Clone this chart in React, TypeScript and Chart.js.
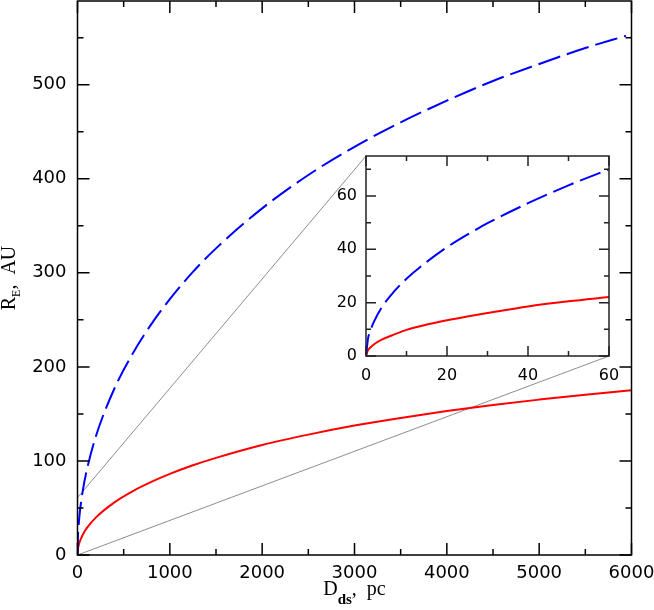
import React, { useEffect, useRef } from "react";
import { Chart, registerables } from "chart.js";

Chart.register(...registerables);

// ---------------- Main panel data ----------------
const blueD = [0, 5, 15, 30, 60, 100, 200, 400, 600, 800, 1000, 1250, 1500, 2000, 2500, 3000, 3500, 4000, 4500, 5000, 5500, 5940];
const blueRE = [0, 20, 35, 49.5, 70, 90, 126.5, 177, 214.5, 245.5, 272, 301, 326, 368.5, 404, 434, 460, 483, 504, 522, 539, 552];
const redD = [0, 5, 15, 30, 60, 100, 200, 400, 600, 800, 1000, 1250, 1500, 2000, 2500, 3000, 3500, 4000, 4500, 5000, 5500, 6000];
const redRE = [0, 6.4, 11.1, 15.7, 22.1, 28.5, 40, 56, 68, 77.7, 86.2, 95.4, 103.3, 117, 128, 137.6, 145.7, 153, 159.5, 165.2, 170.5, 175.2];

const xTickLabels = ["0", "1000", "2000", "3000", "4000", "5000", "6000"];
const yTickLabels = ["0", "100", "200", "300", "400", "500"];

// ---------------- Inset data ----------------
const insetD = [0, 0.5, 1, 2, 4, 7, 10, 15, 20, 25, 30, 40, 50, 60];
const insetBlue = [0, 6.5, 9.2, 13, 18.5, 24.3, 29, 35.3, 40.8, 45.5, 49.8, 57.3, 64, 70];
const insetRed = [0, 2.2, 3.1, 4.4, 6.2, 8.1, 9.8, 11.8, 13.4, 14.8, 16.1, 18.6, 20.5, 22.1];

const insetXTickLabels = ["0", "20", "40", "60"];
const insetYTickLabels = ["0", "20", "40", "60"];

// zoom-box corners (main data coords) joined to inset corners
const zoomTopLeft = [0, 61];
const zoomBottomRight = [0, 0];

// ---------------- layout ----------------
const W = 654;
const H = 610;
const INSET_AREA = { left: 366, top: 156, right: 609, bottom: 356 };
const INSET_PAD = { left: 40, top: 6, right: 12, bottom: 34 };

const pts = (xs: number[], ys: number[]) => xs.map((x, i) => ({ x, y: ys[i] }));

type FrameOpts = {
  color: string;
  lw: number;
  xStep: number;
  yStep: number;
  xMinor: number;
  yMinor: number;
  major: number;
  minor: number;
};

function framePlugin(o: FrameOpts) {
  return {
    id: "frameTicks",
    afterDatasetsDraw(chart: any) {
      const { ctx, chartArea: a, scales } = chart;
      const sx = scales.x;
      const sy = scales.y;
      ctx.save();
      ctx.strokeStyle = o.color;
      ctx.lineWidth = o.lw;
      ctx.lineCap = "butt";
      ctx.strokeRect(a.left, a.top, a.right - a.left, a.bottom - a.top);
      ctx.beginPath();
      const nx = Math.round((sx.max - sx.min) / o.xMinor);
      for (let i = 0; i <= nx; i++) {
        const v = sx.min + i * o.xMinor;
        const isMajor = Math.abs(v / o.xStep - Math.round(v / o.xStep)) < 1e-6;
        const len = isMajor ? o.major : o.minor;
        const p = sx.getPixelForValue(v);
        ctx.moveTo(p, a.bottom);
        ctx.lineTo(p, a.bottom - len);
        ctx.moveTo(p, a.top);
        ctx.lineTo(p, a.top + len);
      }
      const ny = Math.floor((sy.max - sy.min) / o.yMinor + 1e-6);
      for (let i = 0; i <= ny; i++) {
        const v = sy.min + i * o.yMinor;
        const isMajor = Math.abs(v / o.yStep - Math.round(v / o.yStep)) < 1e-6;
        const len = isMajor ? o.major : o.minor;
        const p = sy.getPixelForValue(v);
        ctx.moveTo(a.left, p);
        ctx.lineTo(a.left + len, p);
        ctx.moveTo(a.right, p);
        ctx.lineTo(a.right - len, p);
      }
      ctx.stroke();
      ctx.restore();
    },
  };
}

type Part = { t: string; font: string; dy: number };
function drawParts(ctx: CanvasRenderingContext2D, parts: Part[], x: number, y: number) {
  const widths = parts.map((p) => {
    ctx.font = p.font;
    return ctx.measureText(p.t).width;
  });
  const total = widths.reduce((s, w) => s + w, 0);
  let cx = x - total / 2;
  ctx.textAlign = "left";
  ctx.textBaseline = "alphabetic";
  parts.forEach((p, i) => {
    ctx.font = p.font;
    ctx.fillText(p.t, cx, y + p.dy);
    cx += widths[i];
  });
}

const SERIF = "'Liberation Serif', 'DejaVu Serif', serif";
const SANS = "'DejaVu Sans', sans-serif";

const titlesPlugin = {
  id: "titles",
  afterDraw(chart: any) {
    const { ctx, chartArea: a } = chart;
    ctx.save();
    ctx.fillStyle = "#000";
    drawParts(
      ctx,
      [
        { t: "D", font: `20px ${SERIF}`, dy: 0 },
        { t: "ds", font: `bold 15px ${SERIF}`, dy: 9 },
        { t: ",  pc", font: `20px ${SERIF}`, dy: 0 },
      ],
      (a.left + a.right) / 2,
      595
    );
    ctx.translate(15, (a.top + a.bottom) / 2);
    ctx.rotate(-Math.PI / 2);
    drawParts(
      ctx,
      [
        { t: "R", font: `20px ${SERIF}`, dy: 0 },
        { t: "E", font: `12px ${SERIF}`, dy: 5 },
        { t: ",  AU", font: `20px ${SERIF}`, dy: 0 },
      ],
      0,
      0
    );
    ctx.restore();
  },
};

const connectorPlugin = {
  id: "connectors",
  beforeDatasetsDraw(chart: any) {
    const { ctx, scales } = chart;
    const sx = scales.x;
    const sy = scales.y;
    ctx.save();
    ctx.strokeStyle = "#808080";
    ctx.lineWidth = 0.9;
    ctx.beginPath();
    ctx.moveTo(sx.getPixelForValue(zoomTopLeft[0]), sy.getPixelForValue(zoomTopLeft[1]));
    ctx.lineTo(INSET_AREA.left, INSET_AREA.top);
    ctx.moveTo(sx.getPixelForValue(zoomBottomRight[0]), sy.getPixelForValue(zoomBottomRight[1]));
    ctx.lineTo(INSET_AREA.right, INSET_AREA.bottom);
    ctx.stroke();
    ctx.restore();
  },
};

const insetBgPlugin = {
  id: "insetBg",
  beforeDraw(chart: any) {
    const { ctx, chartArea: a } = chart;
    ctx.save();
    ctx.fillStyle = "#fff";
    ctx.fillRect(a.left, a.top, a.right - a.left, a.bottom - a.top);
    ctx.restore();
  },
};

const labelCb = (list: string[]) => (v: any) => (list.includes(String(v)) ? String(v) : "");

const fixSize = (dim: "width" | "height", size: number) => (s: any) => {
  s[dim] = size;
  s.paddingLeft = 0;
  s.paddingRight = 0;
  s.paddingTop = 0;
  s.paddingBottom = 0;
};

export default function App() {
  const mainRef = useRef<HTMLCanvasElement>(null);
  const insetRef = useRef<HTMLCanvasElement>(null);

  useEffect(() => {
    const main = new Chart(mainRef.current as HTMLCanvasElement, {
      type: "scatter",
      data: {
        datasets: [
          {
            data: pts(blueD, blueRE),
            showLine: true,
            borderColor: "#0000ff",
            borderWidth: 2,
            borderDash: [23, 7],
            pointRadius: 0,
            cubicInterpolationMode: "monotone",
          },
          {
            data: pts(redD, redRE),
            showLine: true,
            borderColor: "#ff0000",
            borderWidth: 2,
            pointRadius: 0,
            cubicInterpolationMode: "monotone",
          },
        ],
      } as any,
      options: {
        animation: false,
        responsive: false,
        devicePixelRatio: 1,
        events: [],
        layout: { padding: { left: 0, right: 22.5, top: 1, bottom: 0 } },
        plugins: { legend: { display: false }, tooltip: { enabled: false } },
        scales: {
          x: {
            type: "linear",
            min: 0,
            max: 6000,
            grid: { display: false, drawTicks: false },
            border: { display: false },
            ticks: {
              stepSize: 1000,
              includeBounds: false,
              maxRotation: 0,
              autoSkip: false,
              padding: 8,
              color: "#000",
              font: { family: SANS, size: 18 },
              callback: labelCb(xTickLabels),
            },
            afterFit: fixSize("height", 55),
          },
          y: {
            type: "linear",
            min: 0,
            max: 589,
            grid: { display: false, drawTicks: false },
            border: { display: false },
            ticks: {
              stepSize: 100,
              includeBounds: false,
              autoSkip: false,
              padding: 11,
              color: "#000",
              font: { family: SANS, size: 18 },
              callback: labelCb(yTickLabels),
            },
            afterFit: fixSize("width", 77.5),
          },
        },
      } as any,
      plugins: [
        connectorPlugin,
        framePlugin({ color: "#000", lw: 1.5, xStep: 1000, yStep: 100, xMinor: 500, yMinor: 50, major: 12, minor: 6 }),
        titlesPlugin,
      ],
    });

    const inset = new Chart(insetRef.current as HTMLCanvasElement, {
      type: "scatter",
      data: {
        datasets: [
          {
            data: pts(insetD, insetBlue),
            showLine: true,
            borderColor: "#0000ff",
            borderWidth: 2,
            borderDash: [22, 7],
            pointRadius: 0,
            cubicInterpolationMode: "monotone",
          },
          {
            data: pts(insetD, insetRed),
            showLine: true,
            borderColor: "#ff0000",
            borderWidth: 2,
            pointRadius: 0,
            cubicInterpolationMode: "monotone",
          },
        ],
      } as any,
      options: {
        animation: false,
        responsive: false,
        devicePixelRatio: 1,
        events: [],
        layout: { padding: { left: 0, right: INSET_PAD.right, top: INSET_PAD.top, bottom: 0 } },
        plugins: { legend: { display: false }, tooltip: { enabled: false } },
        scales: {
          x: {
            type: "linear",
            min: 0,
            max: 60,
            grid: { display: false, drawTicks: false },
            border: { display: false },
            ticks: {
              stepSize: 20,
              includeBounds: false,
              maxRotation: 0,
              autoSkip: false,
              padding: 10,
              color: "#000",
              font: { family: SANS, size: 16 },
              callback: labelCb(insetXTickLabels),
            },
            afterFit: fixSize("height", INSET_PAD.bottom),
          },
          y: {
            type: "linear",
            min: 0,
            max: 75,
            grid: { display: false, drawTicks: false },
            border: { display: false },
            ticks: {
              stepSize: 20,
              includeBounds: false,
              autoSkip: false,
              padding: 9,
              color: "#000",
              font: { family: SANS, size: 16 },
              callback: labelCb(insetYTickLabels),
            },
            afterFit: fixSize("width", INSET_PAD.left),
          },
        },
      } as any,
      plugins: [
        insetBgPlugin,
        framePlugin({ color: "#222", lw: 1.5, xStep: 20, yStep: 20, xMinor: 10, yMinor: 10, major: 10, minor: 5 }),
      ],
    });

    return () => {
      main.destroy();
      inset.destroy();
    };
  }, []);

  const iw = INSET_AREA.right - INSET_AREA.left + INSET_PAD.left + INSET_PAD.right;
  const ih = INSET_AREA.bottom - INSET_AREA.top + INSET_PAD.top + INSET_PAD.bottom;

  return (
    <div style={{ position: "fixed", left: 0, top: 0, width: W, height: H, background: "#fff" }}>
      <canvas ref={mainRef} width={W} height={H} style={{ position: "absolute", left: 0, top: 0 }} />
      <canvas
        ref={insetRef}
        width={iw}
        height={ih}
        style={{ position: "absolute", left: INSET_AREA.left - INSET_PAD.left, top: INSET_AREA.top - INSET_PAD.top }}
      />
    </div>
  );
}
